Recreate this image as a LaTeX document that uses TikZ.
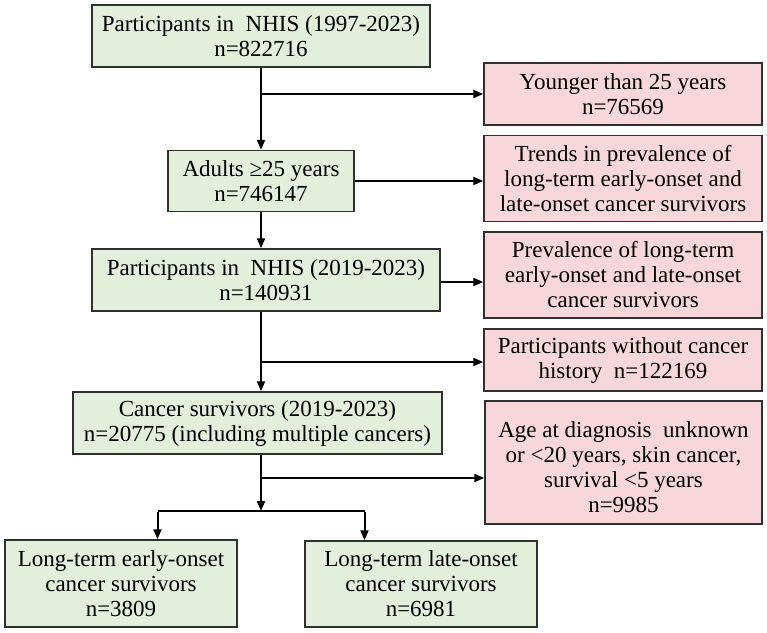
\documentclass[tikz,border=0pt]{standalone}
\usepackage{fontspec}
\setmainfont{Liberation Serif}
\usetikzlibrary{arrows.meta}
\definecolor{gfill}{HTML}{E2EFDA}
\definecolor{pfill}{HTML}{F8D7DC}
\definecolor{bline}{HTML}{303030}
\tikzset{
  box/.style={draw=bline, line width=1.5pt, align=center, inner sep=0pt,
    font=\fontsize{23}{25}\selectfont},
  gbox/.style={box, fill=gfill},
  pbox/.style={box, fill=pfill},
  arr/.style={line width=2pt, -{Triangle[length=10pt,width=8pt]}},
  ln/.style={line width=2pt}
}
\begin{document}
\begin{tikzpicture}[x=1pt,y=-1pt]
\useasboundingbox (0,0) rectangle (767,632);
% green boxes
\node[gbox, minimum width=338pt, minimum height=62pt] (b1) at (261,36) {Participants in\ \ NHIS (1997-2023)\\n=822716};
\node[gbox, minimum width=186pt, minimum height=61pt] (b2) at (261,181) {Adults ≥25 years\\n=746147};
\node[gbox, minimum width=348pt, minimum height=62pt] (b3) at (266,280) {Participants in\ \ NHIS (2019-2023)\\n=140931};
\node[gbox, minimum width=369pt, minimum height=62pt] (b4) at (257.5,423) {Cancer survivors (2019-2023)\\n=20775 (including multiple cancers)};
\node[gbox, minimum width=232pt, minimum height=87pt] (b5) at (121,583.5) {Long-term early-onset\\cancer survivors\\n=3809};
\node[gbox, minimum width=232pt, minimum height=86pt] (b6) at (421,584) {Long-term late-onset\\cancer survivors\\n=6981};
% pink boxes
\node[pbox, minimum width=278pt, minimum height=62pt] (p1) at (623,94) {Younger than 25 years\\n=76569};
\node[pbox, minimum width=278pt, minimum height=86pt] (p2) at (623,178.5) {Trends in prevalence of\\long-term early-onset and\\late-onset cancer survivors};
\node[pbox, minimum width=278pt, minimum height=86pt] (p3) at (623,275) {Prevalence of long-term\\early-onset and late-onset\\cancer survivors};
\node[pbox, minimum width=278pt, minimum height=62pt] (p4) at (623,360) {Participants without cancer\\history\ \ n=122169};
\node[pbox, minimum width=277pt, minimum height=123pt] (p5) at (623.5,462.5) {\rule{0pt}{26pt}Age at diagnosis\ \ unknown\\or <20 years, skin cancer,\\survival <5 years\\n=9985};
% junction coordinates
\coordinate (c1) at (261,94);
\coordinate (c4) at (261,362);
\coordinate (c5) at (261,478);
\coordinate (j) at (261,511);
\coordinate (jl) at (157.5,511);
\coordinate (jr) at (364.5,511);
% connectors
\draw[arr] (b1.south) -- (b2.north);
\draw[arr] (c1) -- (c1 -| p1.west);
\draw[arr] (b2.east) -- (b2.east -| p2.west);
\draw[arr] (b2.south) -- (b2.south |- b3.north);
\draw[arr] ([yshift=-2pt]b3.east) -- ([yshift=-2pt]b3.east -| p3.west);
\draw[arr] (b2.south |- b3.south) -- (b2.south |- b4.north);
\draw[arr] (c4) -- (c4 -| p4.west);
\draw[arr] (b2.south |- b4.south) -- (j);
\draw[arr] (c5) -- (c5 -| p5.west);
\draw[ln] (jl) -- (jr);
\draw[arr] ([yshift=-1pt]jl) -- (jl |- b5.north);
\draw[arr] ([yshift=-1pt]jr) -- (jr |- b6.north);
\end{tikzpicture}
\end{document}
